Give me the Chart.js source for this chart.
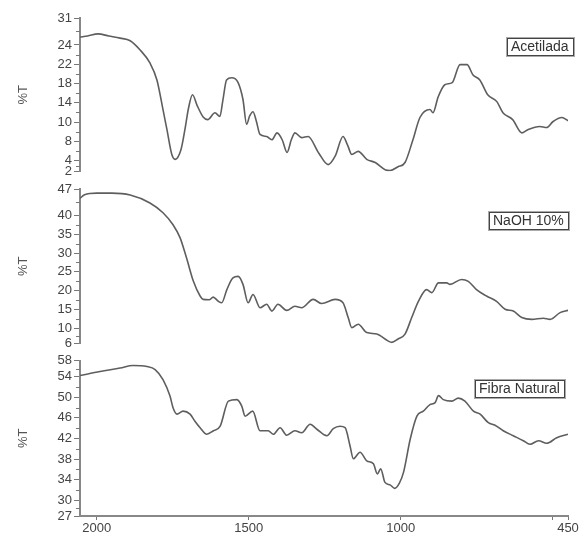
<!DOCTYPE html>
<html>
<head>
<meta charset="utf-8">
<script src="https://cdn.jsdelivr.net/npm/chart.js@4.4.0/dist/chart.umd.min.js"></script>
<style>
  body { margin: 0; background: #fff; }
  #wrap { position: relative; width: 581px; height: 538px; }
  .panel { position: absolute; left: 0; width: 581px; }
</style>
</head>
<body>
<div id="wrap">
  <div class="panel" style="top:0;height:180px"><canvas id="c1"></canvas></div>
  <div class="panel" style="top:180px;height:172px"><canvas id="c2"></canvas></div>
  <div class="panel" style="top:352px;height:186px"><canvas id="c3"></canvas></div>
</div>
<script>
const wnAcetilada = [2055, 2030, 1996, 1960, 1923, 1890, 1858, 1825, 1802, 1782, 1769, 1753, 1742, 1723, 1710, 1698, 1685, 1670, 1650, 1635, 1611, 1595, 1585, 1573, 1556, 1535, 1519, 1507, 1497, 1486, 1475, 1463, 1441, 1424, 1407, 1390, 1374, 1360, 1348, 1326, 1305, 1270, 1239, 1215, 1190, 1175, 1161, 1140, 1112, 1084, 1050, 1035, 1009, 986, 960, 937, 904, 894, 877, 855, 831, 805, 782, 763, 740, 714, 684, 664, 632, 602, 582, 543, 520, 500, 470, 450]
const tAcetilada = [27.4, 27.6, 28.0, 27.6, 27.2, 26.7, 25.0, 22.5, 19.3, 13.7, 9.9, 5.2, 4.3, 6.1, 9.9, 14.0, 16.5, 14.5, 12.3, 11.8, 13.1, 12.4, 15.5, 19.3, 19.7, 18.8, 15.6, 10.9, 12.5, 13.3, 11.5, 9.0, 8.6, 8.0, 9.3, 8.0, 5.6, 8.0, 9.3, 8.4, 8.6, 5.5, 3.3, 5.0, 8.6, 7.0, 5.2, 5.8, 4.3, 3.7, 2.3, 2.2, 2.9, 3.7, 8.0, 12.2, 13.7, 13.1, 16.1, 18.4, 18.8, 22.2, 22.2, 20.3, 19.3, 16.5, 15.2, 13.1, 11.8, 9.3, 9.9, 10.5, 10.3, 11.4, 12.2, 11.6]

const wnNaoh = [2055, 2040, 2000, 1950, 1890, 1825, 1782, 1749, 1726, 1705, 1682, 1660, 1650, 1630, 1617, 1600, 1589, 1572, 1552, 1535, 1519, 1502, 1486, 1463, 1441, 1424, 1404, 1375, 1348, 1326, 1288, 1260, 1216, 1190, 1173, 1161, 1140, 1112, 1079, 1042, 1030, 1009, 986, 964, 942, 915, 898, 876, 849, 838, 800, 778, 751, 718, 685, 657, 630, 602, 569, 531, 509, 476, 450]
const tNaoh = [44.5, 45.5, 45.9, 45.9, 45.4, 43.3, 40.7, 37.5, 34.1, 28.8, 22.5, 18.6, 17.7, 17.6, 18.3, 17.2, 16.8, 20.3, 23.4, 23.8, 21.7, 16.8, 19.0, 15.5, 16.4, 14.6, 16.4, 14.8, 15.9, 15.5, 17.7, 16.6, 17.7, 16.8, 12.9, 10.2, 11.1, 8.9, 8.5, 6.7, 6.3, 7.2, 8.5, 12.9, 17.2, 20.3, 19.5, 22.1, 22.1, 21.7, 23.0, 22.5, 20.3, 18.6, 17.2, 15.1, 14.6, 12.9, 12.4, 12.7, 12.4, 14.2, 14.8]

const wnNatural = [2055, 1989, 1923, 1881, 1835, 1808, 1782, 1759, 1749, 1736, 1716, 1693, 1677, 1660, 1638, 1616, 1594, 1567, 1539, 1523, 1512, 1487, 1463, 1436, 1419, 1397, 1375, 1348, 1326, 1298, 1276, 1243, 1222, 1200, 1183, 1167, 1156, 1134, 1112, 1090, 1077, 1066, 1052, 1035, 1020, 1005, 991, 969, 947, 926, 904, 887, 876, 860, 832, 811, 789, 761, 739, 712, 690, 663, 630, 597, 575, 547, 520, 487, 450]
const tNatural = [55.0, 55.8, 56.5, 57.0, 56.8, 56.2, 54.2, 50.9, 48.6, 47.3, 47.9, 47.3, 45.9, 44.6, 43.3, 44.0, 44.9, 49.9, 50.2, 48.9, 46.9, 47.9, 44.0, 44.0, 43.3, 44.6, 43.1, 44.0, 43.6, 45.3, 44.3, 43.0, 44.4, 44.9, 44.6, 41.0, 38.4, 39.7, 38.0, 37.4, 35.4, 36.4, 33.7, 33.2, 32.5, 33.5, 35.7, 42.3, 46.9, 47.9, 49.2, 49.6, 51.0, 50.2, 49.9, 50.5, 49.9, 47.9, 47.3, 45.6, 45.1, 44.0, 43.0, 42.0, 41.3, 42.0, 41.5, 42.6, 43.3]

/** Etiquetas de los ejes */
const xTicks = [2000, 1500, 1000, 500, 450]
const xTickLabels = ['2000', '1500', '1000', '', '450']
const yLabelsTop = ['2', '4', '8', '10', '14', '18', '22', '24', '31']
const yLabelsMid = ['6', '10', '15', '20', '25', '30', '35', '40', '47']
const yLabelsBot = ['27', '30', '34', '38', '42', '46', '50', '54', '58']

const FONT = '"Liberation Sans", Arial, sans-serif'

let panels = [
  { id: 'c1', wn: wnAcetilada, t: tAcetilada, name: 'Acetilada', min: 2, max: 31, labels: yLabelsTop, span: [4.07, 25.9],
    pad: { top: 18, bottom: 8 }, tag: { right: 573, top: 38 }, xAxis: false },
  { id: 'c2', wn: wnNaoh, t: tNaoh, name: 'NaOH 10%', min: 6, max: 47, labels: yLabelsMid, span: [10, 40],
    pad: { top: 9, bottom: 8 }, tag: { right: 568, top: 32 }, xAxis: false },
  { id: 'c3', wn: wnNatural, t: tNatural, name: 'Fibra Natural', min: 27, max: 58, labels: yLabelsBot, span: [30.1, 54.8],
    pad: { top: 7, bottom: 2 }, tag: { right: 564, top: 28 }, xAxis: true }
]

/** Posicion de las marcas del eje y: extremos y marcas interiores equiespaciadas */
function tick_values (p) {
  let vals = [p.min]
  let n = p.labels.length - 2
  for (let i = 0; i < n; i++) {
    vals.push(p.span[0] + (p.span[1] - p.span[0]) * i / (n - 1))
  }
  vals.push(p.max)
  return vals
}

/** Marcas menores y recuadro con el nombre */
const decor = {
  id: 'decor',
  afterDraw: function (chart, args, opts) {
    let ctx = chart.ctx
    let y = chart.scales.y
    let left = chart.chartArea.left
    ctx.save()
    ctx.strokeStyle = '#777'
    ctx.lineWidth = 1
    for (let i = 0; i < y.ticks.length - 1; i++) {
      let py = Math.round(y.getPixelForValue((y.ticks[i].value + y.ticks[i + 1].value) / 2)) + 0.5
      ctx.beginPath()
      ctx.moveTo(left - 4, py)
      ctx.lineTo(left, py)
      ctx.stroke()
    }
    ctx.font = '14px ' + FONT
    let w = Math.round(ctx.measureText(opts.text).width) + 8
    let x0 = opts.right - w
    ctx.strokeStyle = '#aaa'
    ctx.strokeRect(x0 - 0.5, opts.top - 0.5, w + 2, 19)
    ctx.strokeStyle = '#444'
    ctx.strokeRect(x0 + 0.5, opts.top + 0.5, w, 17)
    ctx.fillStyle = '#333'
    ctx.textBaseline = 'middle'
    ctx.fillText(opts.text, x0 + 4, opts.top + 9.5)
    ctx.restore()
  }
}

/** Insertamos las graficas */
panels.forEach(function (p) {
  let pts = p.wn.map(function (w, i) { return { x: w, y: p.t[i] } })
  let yVals = tick_values(p)
  new Chart(document.getElementById(p.id), {
    type: 'line',
    data: {
      datasets: [{
        data: pts,
        borderColor: '#5e5e5e',
        borderWidth: 1.6,
        pointRadius: 0,
        cubicInterpolationMode: 'monotone',
        fill: false
      }]
    },
    plugins: [decor],
    options: {
      responsive: true,
      maintainAspectRatio: false,
      animation: false,
      layout: { padding: { top: p.pad.top, bottom: p.pad.bottom, left: 0, right: 13 } },
      plugins: {
        legend: { display: false },
        tooltip: { enabled: false },
        decor: { text: p.name, right: p.tag.right, top: p.tag.top }
      },
      scales: {
        x: {
          type: 'linear',
          display: p.xAxis,
          reverse: true,
          min: 450,
          max: 2055,
          afterBuildTicks: function (scale) {
            scale.ticks = xTicks.map(function (v) { return { value: v } })
          },
          afterFit: function (scale) {
            if (p.xAxis) scale.height = 20
          },
          ticks: {
            autoSkip: false,
            maxRotation: 0,
            padding: 2,
            color: '#444',
            font: { family: FONT, size: 13, lineHeight: 1 },
            callback: function (v, i) { return xTickLabels[i] }
          },
          grid: { drawOnChartArea: false, tickLength: 4, color: '#777' },
          border: { color: '#888', width: 2 }
        },
        y: {
          type: 'linear',
          min: p.min,
          max: p.max,
          afterBuildTicks: function (scale) {
            scale.ticks = yVals.map(function (v) { return { value: v } })
          },
          afterFit: function (scale) { scale.width = 80 },
          title: {
            display: true,
            text: '%T',
            color: '#555',
            font: { family: FONT, size: 13 },
            padding: { top: 16, bottom: 0 }
          },
          ticks: {
            autoSkip: false,
            padding: 2,
            color: '#444',
            font: { family: FONT, size: 13, lineHeight: 1 },
            callback: function (v, i) { return p.labels[i] }
          },
          grid: { drawOnChartArea: false, tickLength: 6, color: '#777' },
          border: { color: '#888', width: 2 }
        }
      }
    }
  })
})
</script>
</body>
</html>
